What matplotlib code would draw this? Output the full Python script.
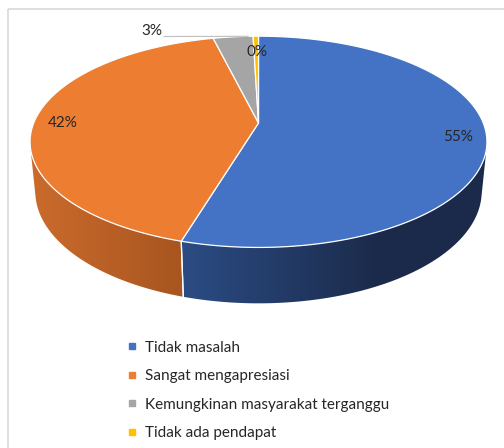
import numpy as np
import matplotlib
matplotlib.use("Agg")
import matplotlib.pyplot as plt
from matplotlib.patches import Polygon, Rectangle
from matplotlib.lines import Line2D
from matplotlib.colors import to_rgb

# ---- data ----
categories = ["Tidak masalah", "Sangat mengapresiasi",
              "Kemungkinan masyarakat terganggu", "Tidak ada pendapat"]
values = [54.6, 41.6, 3.35, 0.45]
colors = ["#4472C4", "#ED7D31", "#A5A5A5", "#FFC000"]
side_left = ["#2B4C84", "#CB6B2D", "#7A7A7A", "#BF9000"]
side_right = ["#1B2A4A", "#A8551F", "#5A5A5A", "#8F6C00"]

plt.rcParams['font.family'] = ['Lato', 'DejaVu Sans']

W, H = 504, 448
fig = plt.figure(figsize=(W / 100, H / 100), dpi=100)
ax = fig.add_axes([0, 0, 1, 1])
ax.axis('off')

# border
ax.add_patch(Rectangle((8, 9), 520, 460, fill=False, edgecolor="#D9D9D9", lw=1.2))

# ---- 3D projection ----
cx, cy = 258.5, 123.0
elev = np.arcsin(0.455)
ce, se = np.cos(elev), np.sin(elev)
Dist = 5.0
f = 1141.0 * 0.985
hgt = 0.25


def proj(theta_deg, r=1.0, z=0.0):
    t = np.radians(theta_deg)
    x = r * np.cos(t)
    y = r * np.sin(t)
    v = y * se + z * ce
    w = Dist + y * ce - z * se
    return cx + f * x / w, cy - f * v / w


total = sum(values)
starts, ends = [], []
a = 90.0
for v in values:
    starts.append(a)
    a2 = a - 360.0 * v / total
    ends.append(a2)
    a = a2

thr = np.degrees(np.arcsin(1.0 / (Dist * ce)))
vis_lo, vis_hi = 180 + thr, 360 - thr

# side walls with horizontal gradient
for i in range(len(values)):
    a0, a1 = starts[i], ends[i]
    for k in (-1, 0, 1):
        lo = max(a1, vis_lo + 360 * k)
        hi = min(a0, vis_hi + 360 * k)
        if lo < hi:
            th = np.linspace(lo, hi, 200)
            xt, yt = proj(th, 1, 0)
            xb, yb = proj(th, 1, -hgt)
            pts = list(zip(xt, yt)) + list(zip(xb[::-1], yb[::-1]))
            patch = Polygon(pts, closed=True, facecolor='none', edgecolor='none')
            ax.add_patch(patch)
            xmin, xmax = min(xt.min(), xb.min()), max(xt.max(), xb.max())
            ymin, ymax = min(yt.min(), yb.min()), max(yt.max(), yb.max())
            cl = np.array(to_rgb(side_left[i]))
            cr = np.array(to_rgb(side_right[i]))
            fr = np.linspace(0, 1, 256)
            if i == 0:
                fr = np.clip(fr / 0.65, 0, 1)
            grad = (cl[None, :] + (cr - cl)[None, :] * fr[:, None])[None, :, :]
            im = ax.imshow(grad, extent=[xmin, xmax, ymax + 1, ymin - 1],
                           aspect='auto', interpolation='bilinear', zorder=1)
            im.set_clip_path(patch)
            for tv in (lo, hi):
                if abs(tv - a0) < 1e-6 or abs(tv - a1) < 1e-6:
                    x1, y1 = proj(tv, 1, 0)
                    x2, y2 = proj(tv, 1, -hgt)
                    ax.plot([x1, x2], [y1, y2], color="white", lw=0.9, zorder=2)

# top faces
for i in range(len(values)):
    a0, a1 = starts[i], ends[i]
    n = max(4, int((a0 - a1) * 2))
    th = np.linspace(a0, a1, n + 1)
    xt, yt = proj(th, 1, 0)
    px, py = proj(0.0, 0.0, 0.0)
    pts = [(px, py)] + list(zip(xt, yt))
    ax.add_patch(Polygon(pts, closed=True, facecolor=colors[i],
                         edgecolor="white", lw=0.9, joinstyle='round', zorder=3))

# labels
lab_pos = [(458, 137), (63, 123), (152, 31), (257, 52)]
for i, v in enumerate(values):
    ax.text(lab_pos[i][0], lab_pos[i][1], f"{v / total * 100:.0f}%",
            ha='center', va='center', fontsize=11, color="#262626", zorder=5)
# leader line for 3%
gx, gy = proj(ends[2] + 1.5, 1, 0)
ax.plot([164, gx], [36.5, gy], color="#BFBFBF", lw=0.8, zorder=4)

ax.set_xlim(0, W)
ax.set_ylim(H, 0)

# legend
handles = [Line2D([0], [0], marker='s', linestyle='none', markersize=4.5,
                  markerfacecolor=c, markeredgecolor=c) for c in colors]
leg = fig.legend(handles, categories, loc='upper left',
                 bbox_to_anchor=(114 / W, 1 - 327 / H), frameon=False,
                 fontsize=11, handlelength=0.6, handletextpad=0.5,
                 labelspacing=0.95, labelcolor="#262626")

fig.savefig("out.png", dpi=100)
